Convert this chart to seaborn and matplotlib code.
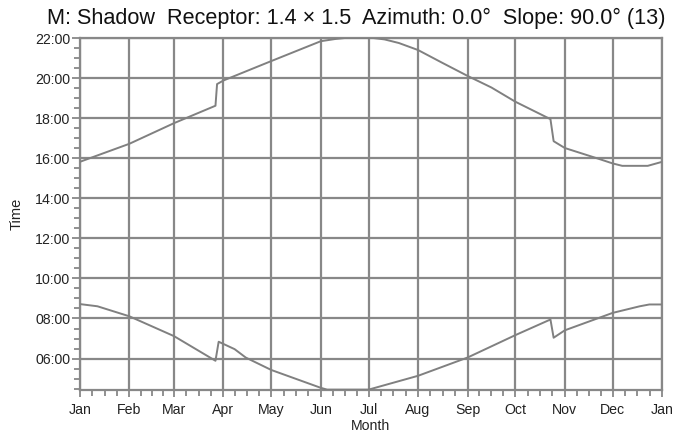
import matplotlib
matplotlib.use("Agg")
import matplotlib.pyplot as plt
import seaborn as sns
import pandas as pd
from matplotlib.ticker import FixedLocator, FuncFormatter, MultipleLocator

# ---- data (day of year, hour of day) ----
upper_days = [0, 31, 59, 85, 86, 90, 120, 151, 160, 166, 184, 191, 200, 212, 227, 243, 258, 273, 295, 297, 304, 326, 334, 340, 356, 365]
upper_hours = [15.82, 16.72, 17.75, 18.62, 19.70, 19.88, 20.85, 21.84, 21.95, 22.0, 22.0, 21.93, 21.75, 21.40, 20.77, 20.11, 19.53, 18.82, 17.95, 16.85, 16.51, 15.95, 15.74, 15.62, 15.62, 15.82]

lower_days = [0, 11, 31, 59, 85, 87, 97, 104, 120, 151, 155, 181, 212, 243, 273, 295, 297, 304, 334, 351, 357, 365]
lower_hours = [8.72, 8.61, 8.11, 7.12, 5.89, 6.84, 6.47, 6.05, 5.43, 4.54, 4.45, 4.45, 5.14, 6.05, 7.17, 7.95, 7.04, 7.41, 8.28, 8.61, 8.70, 8.70]

month_starts = [0, 31, 59, 90, 120, 151, 181, 212, 243, 273, 304, 334, 365]
month_labels = ["Jan", "Feb", "Mar", "Apr", "May", "Jun", "Jul", "Aug", "Sep", "Oct", "Nov", "Dec", "Jan"]
hour_ticks = [6, 8, 10, 12, 14, 16, 18, 20, 22]

title = "M: Shadow  Receptor: 1.4 \u00d7 1.5  Azimuth: 0.0\u00b0  Slope: 90.0\u00b0 (13)"

sns.set_theme(style="white")
plt.rcParams["font.family"] = ["Liberation Sans", "DejaVu Sans"]

fig = plt.figure(figsize=(6.77, 4.41), dpi=100)
ax = fig.add_axes([0.118, 0.1156, 0.860, 0.7982])

gray = "#808080"
df_u = pd.DataFrame({"day": upper_days, "hour": upper_hours})
df_l = pd.DataFrame({"day": lower_days, "hour": lower_hours})
sns.lineplot(data=df_u, x="day", y="hour", ax=ax, color=gray, lw=1.4, estimator=None, sort=False, zorder=3)
sns.lineplot(data=df_l, x="day", y="hour", ax=ax, color=gray, lw=1.4, estimator=None, sort=False, zorder=3)

ax.set_xlim(0, 365)
ax.set_ylim(4.43, 22.0)

ax.xaxis.set_major_locator(FixedLocator(month_starts))
ax.set_xticklabels(month_labels)
minor_x = []
for a, b in zip(month_starts[:-1], month_starts[1:]):
    for k in (1, 2, 3):
        minor_x.append(a + (b - a) * k / 4)
ax.xaxis.set_minor_locator(FixedLocator(minor_x))

ax.yaxis.set_major_locator(FixedLocator(hour_ticks))
ax.yaxis.set_major_formatter(FuncFormatter(lambda v, p: "%02d:00" % int(round(v))))
ax.yaxis.set_minor_locator(MultipleLocator(0.5))

ax.grid(True, which="major", color="#888888", lw=1.6, zorder=1)
for s in ax.spines.values():
    s.set_color("#888888")
    s.set_linewidth(1.6)

ax.tick_params(axis="y", which="major", direction="out", length=6, width=1.3, color="#888888",
               labelsize=10.2, labelcolor="#222222", left=True, pad=1)
ax.tick_params(axis="x", which="major", direction="out", length=5, width=1.3, color="#888888",
               labelsize=10.2, labelcolor="#222222", bottom=True, pad=4)
ax.tick_params(axis="both", which="minor", direction="out", length=4, width=1.3, color="#888888",
               bottom=True, left=True)

ax.set_xlabel("Month", fontsize=10.2, color="#222222", labelpad=2)
ax.set_ylabel("Time", fontsize=10.5, color="#222222", labelpad=8)
fig.text(0.526, 0.958, title, ha="center", va="center", fontsize=15.6, color="#111111")

fig.savefig("out.png", dpi=100)
